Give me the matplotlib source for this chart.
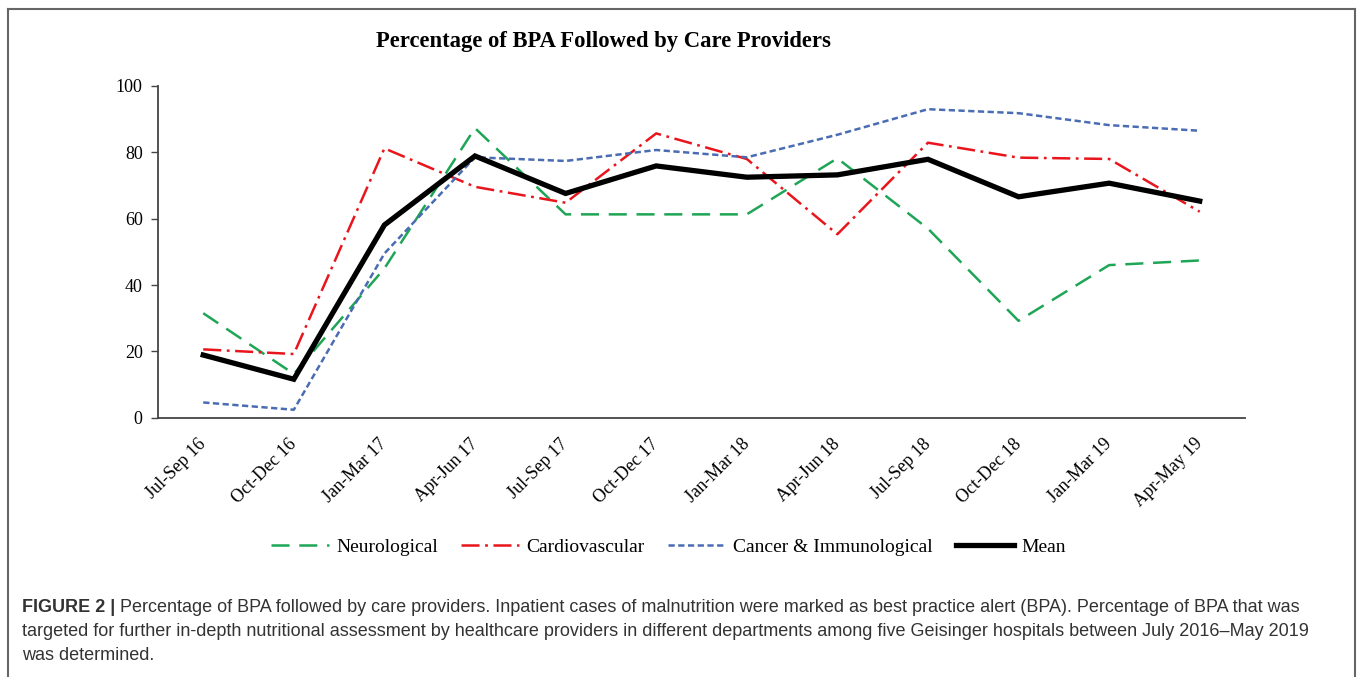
import matplotlib
matplotlib.use("Agg")
import matplotlib.pyplot as plt
from matplotlib.lines import Line2D

plt.rcParams["lines.scale_dashes"] = False

quarters = ["Jul-Sep 16", "Oct-Dec 16", "Jan-Mar 17", "Apr-Jun 17", "Jul-Sep 17",
            "Oct-Dec 17", "Jan-Mar 18", "Apr-Jun 18", "Jul-Sep 18", "Oct-Dec 18",
            "Jan-Mar 19", "Apr-May 19"]
neuro  = [31.5, 13.2, 45.0, 87.3, 61.3, 61.3, 61.3, 78.2, 57.0, 29.2, 46.0, 47.4]
cardio = [20.6, 19.2, 81.2, 69.6, 64.8, 85.7, 78.0, 55.3, 82.9, 78.4, 78.0, 62.1]
cancer = [4.6, 2.4, 49.5, 78.5, 77.4, 80.7, 78.5, 85.3, 93.0, 91.8, 88.2, 86.5]
mean   = [18.9, 11.6, 58.1, 78.9, 67.6, 75.9, 72.5, 73.2, 77.9, 66.6, 70.7, 65.3]

GREEN = "#1fa556"
RED   = "#e8161c"
BLUE  = "#4a6cb3"
SERIF = "Liberation Serif"

fig = plt.figure(figsize=(13.58, 6.77), dpi=100)
ax = fig.add_axes([0.1163, 0.383, 0.8005, 0.49])

x = list(range(len(quarters)))
ax.plot(x, neuro, color=GREEN, lw=1.8, dashes=(13, 7), label="Neurological")
ax.plot(x, cardio, color=RED, lw=1.8, dashes=(13, 4, 2, 4), label="Cardiovascular")
ax.plot(x, cancer, color=BLUE, lw=1.8, dashes=(4.5, 2.5), label="Cancer & Immunological")
ax.plot(x, mean, color="black", lw=3.8, solid_joinstyle="miter", label="Mean")

ax.set_xlim(-0.5, len(quarters) - 0.5)
ax.set_ylim(0, 100)
ax.set_yticks([0, 20, 40, 60, 80, 100])
ax.set_xticks(x)
ax.set_xticklabels(quarters, rotation=45, ha="right", va="center",
                   rotation_mode="anchor", fontsize=13, family=SERIF)
ax.tick_params(axis="x", length=0, pad=17)
ax.tick_params(axis="y", length=5, width=1, color="#444", labelsize=13, pad=6)
for lab in ax.get_yticklabels():
    lab.set_family(SERIF)
ax.spines[["top", "right"]].set_visible(False)
ax.spines[["left", "bottom"]].set_color("#444")
ax.spines[["left", "bottom"]].set_linewidth(1.3)

fig.text(603 / 1358, 1 - 42 / 677, "Percentage of BPA Followed by Care Providers",
         family=SERIF, fontweight="bold", fontsize=16.3, ha="center", va="center")

fig.legend(loc="center", bbox_to_anchor=(0.492, 0.192), ncol=4, frameon=False,
           prop={"family": SERIF, "size": 14}, handlelength=3.0,
           handletextpad=0.35, columnspacing=1.2)

# outer frame (no bottom edge)
frame_kw = dict(color="#666", lw=1.5, transform=fig.transFigure)
fig.add_artist(Line2D([8 / 1358, 8 / 1358], [0, 1 - 9 / 677], **frame_kw))
fig.add_artist(Line2D([8 / 1358, 1355 / 1358], [1 - 9 / 677, 1 - 9 / 677], **frame_kw))
fig.add_artist(Line2D([1355 / 1358, 1355 / 1358], [0, 1 - 9 / 677], **frame_kw))

# caption
cap_kw = dict(family="Liberation Sans", fontsize=13, color="#333", va="baseline")
y1, y2, y3 = 1 - 612 / 677, 1 - 636 / 677, 1 - 660 / 677
bold = fig.text(22 / 1358, y1, "FIGURE 2 | ", fontweight="bold", **cap_kw)
fig.canvas.draw()
bb = bold.get_window_extent()
fig.text(bb.x1 / fig.bbox.width, y1,
         "Percentage of BPA followed by care providers. Inpatient cases of malnutrition were "
         "marked as best practice alert (BPA). Percentage of BPA that was", **cap_kw)
fig.text(22 / 1358, y2,
         "targeted for further in-depth nutritional assessment by healthcare providers in "
         "different departments among five Geisinger hospitals between July 2016\u2013May 2019",
         **cap_kw)
fig.text(22 / 1358, y3, "was determined.", **cap_kw)

fig.savefig("out.png", dpi=100, facecolor="white")
